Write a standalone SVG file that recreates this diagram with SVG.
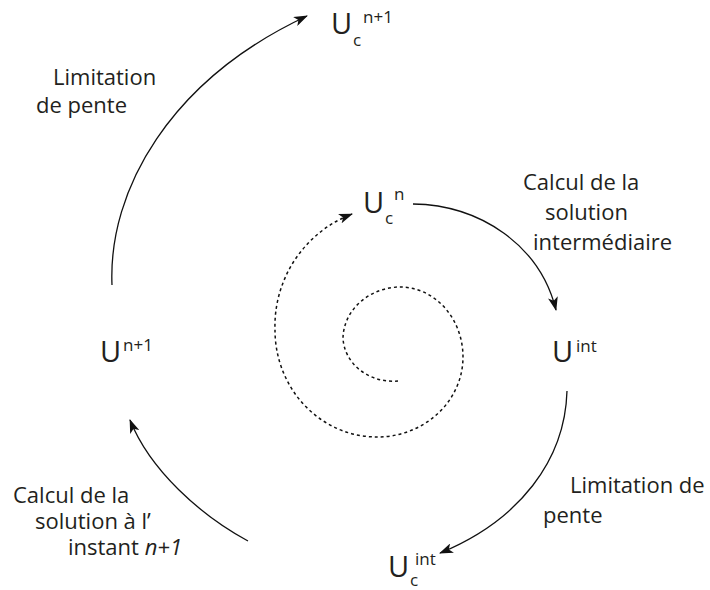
<svg xmlns="http://www.w3.org/2000/svg" width="710" height="590" viewBox="0 0 710 590">
<defs>
<marker id="ah" markerWidth="14" markerHeight="10" refX="13" refY="5" orient="auto" markerUnits="userSpaceOnUse">
<path d="M0,0 L14,5 L0,10 L3.5,5 Z" fill="#111"/>
</marker>
<style>
.lbl{font-family:"Open Sans","Liberation Sans",sans-serif;font-size:22px;fill:#231f20}
.big{font-family:"Open Sans","Liberation Sans",sans-serif;font-size:29px;fill:#231f20}
.sm{font-family:"Open Sans","Liberation Sans",sans-serif;font-size:17px;fill:#231f20}
.arc{fill:none;stroke:#111;stroke-width:1.3}
.dash{fill:none;stroke:#111;stroke-width:1.5;stroke-dasharray:3 3}
</style>
</defs>
<rect width="710" height="590" fill="#fff"/>
<g id="connectors">
<path class="arc" d="M112,285 C108,190 170,80 307,16" marker-end="url(#ah)"/>
<path class="arc" d="M413,204 C480,205 540,245 556,310" marker-end="url(#ah)"/>
<path class="arc" d="M567,391 C565,460 520,520 440,553" marker-end="url(#ah)"/>
<path class="arc" d="M248,541 C200,515 150,470 130,420" marker-end="url(#ah)"/>
<path class="dash" d="M398,381 A50 45 0 0 1 343,338 A58 52 0 0 1 400,287 A63 70 0 0 1 463,357 A86 80 0 0 1 377,437 A102 107 0 0 1 275,330 A120 120 0 0 1 352,214" marker-end="url(#ah)"/>
</g>
<g id="node-ucn1">
<text class="big" x="331" y="34">U</text>
<text class="sm" x="353" y="46">c</text>
<text class="sm" x="363" y="23">n+1</text>
</g>
<g id="node-ucn">
<text class="big" x="363" y="213">U</text>
<text class="sm" x="385" y="224">c</text>
<text class="sm" x="394" y="200">n</text>
</g>
<g id="node-uint">
<text class="big" x="552" y="362">U</text>
<text class="sm" x="576" y="352">int</text>
</g>
<g id="node-ucint">
<text class="big" x="388" y="577">U</text>
<text class="sm" x="410" y="586">c</text>
<text class="sm" x="415" y="565">int</text>
</g>
<g id="node-un1">
<text class="big" x="100" y="362">U</text>
<text class="sm" x="123" y="351">n+1</text>
</g>
<g id="label-lim1">
<text class="lbl" x="53" y="85">Limitation</text>
<text class="lbl" x="36" y="113">de pente</text>
</g>
<g id="label-calc1">
<text class="lbl" x="523" y="190">Calcul de la</text>
<text class="lbl" x="545" y="220">solution</text>
<text class="lbl" x="533" y="250">intermédiaire</text>
</g>
<g id="label-lim2">
<text class="lbl" x="570" y="493">Limitation de</text>
<text class="lbl" x="543" y="523">pente</text>
</g>
<g id="label-calc2">
<text class="lbl" x="13" y="503">Calcul de la</text>
<text class="lbl" x="35" y="529">solution à l’</text>
<text class="lbl" x="68" y="555">instant <tspan font-style="italic">n+1</tspan></text>
</g>
</svg>
